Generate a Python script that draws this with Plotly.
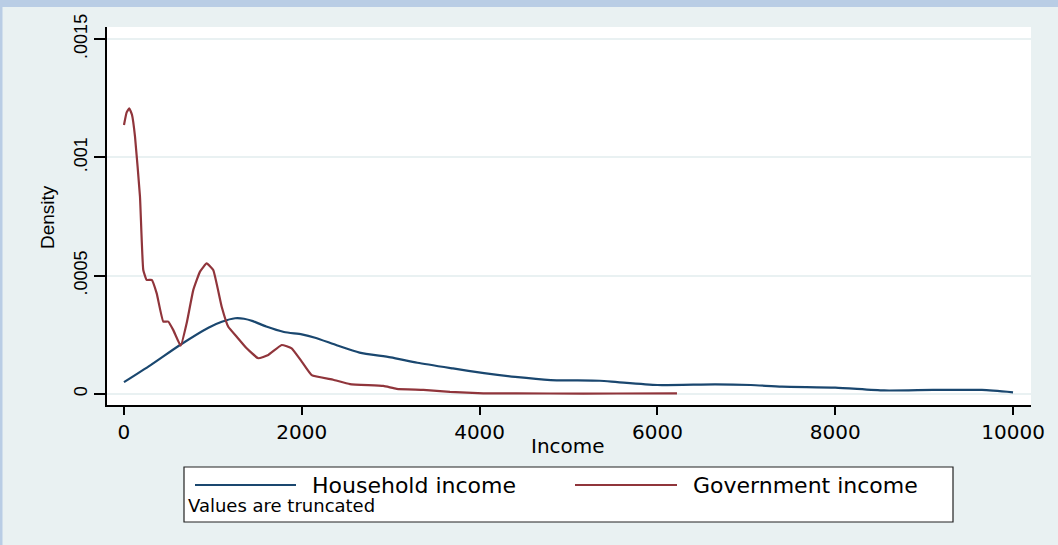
import plotly.graph_objects as go

# Kernel density estimates of monthly income, truncated at 10,000
household_income = [0, 300, 630, 950, 1100, 1250, 1350, 1450, 1600, 1800, 2000, 2150,
                    2400, 2650, 3000, 3300, 3700, 4050, 4400, 4800, 5350, 5550, 6000,
                    6650, 7050, 7400, 8000, 8550, 9100, 9650, 10000]
household_density = [0.000050, 0.000122, 0.000207, 0.000280, 0.000305, 0.000320, 0.000318,
                     0.000308, 0.000285, 0.000262, 0.000252, 0.000238, 0.000205, 0.000175,
                     0.000155, 0.000132, 0.000108, 0.000088, 0.000072, 0.000059, 0.000056,
                     0.000050, 0.000038, 0.000041, 0.000038, 0.000031, 0.000027, 0.000015,
                     0.000017, 0.000017, 0.000007]

government_income = [0, 30, 60, 90, 124, 180, 217, 255, 312, 368, 442, 498, 555, 638, 705,
                     780, 855, 930, 1004, 1099, 1173, 1268, 1380, 1511, 1623, 1774, 1886,
                     1999, 2111, 2354, 2542, 2917, 3067, 3367, 3667, 4042, 4792, 5542, 6220]
government_density = [0.001137, 0.001190, 0.001207, 0.001180, 0.001088, 0.000834, 0.000524,
                      0.000482, 0.000482, 0.000425, 0.000306, 0.000306, 0.000270, 0.000204,
                      0.000299, 0.000440, 0.000517, 0.000552, 0.000524, 0.000369, 0.000284,
                      0.000242, 0.000193, 0.000151, 0.000165, 0.000207, 0.000193, 0.000137,
                      0.000080, 0.000060, 0.000042, 0.000034, 0.000022, 0.000017, 0.000009,
                      0.000003, 0.000002, 0.000002, 0.000003]

series_names = ["Household income", "Government income"]
series_colors = ["#1a476f", "#90353b"]
note_text = "Values are truncated"

x_ticks = [0, 2000, 4000, 6000, 8000, 10000]
y_ticks = [0, 0.0005, 0.001, 0.0015]
y_tick_labels = ["0", ".0005", ".001", ".0015"]

W, H = 1058, 545
L, R, T, B = 107, 1031, 27, 405  # plot area in pixels
PW, PH = R - L, B - T


def px(x):
    return (x - L) / PW


def py(y):
    return (B - y) / PH


fig = go.Figure()
fig.add_trace(go.Scatter(x=household_income, y=household_density, mode="lines",
                         line=dict(color=series_colors[0], width=2.2, shape="spline", smoothing=0.6),
                         name=series_names[0], showlegend=False))
fig.add_trace(go.Scatter(x=government_income, y=government_density, mode="lines",
                         line=dict(color=series_colors[1], width=2.2, shape="spline", smoothing=0.35),
                         name=series_names[1], showlegend=False))

shapes = [
    # outer frame accents
    dict(type="rect", xref="paper", yref="paper", x0=px(0), x1=px(W), y0=py(7), y1=py(0),
         fillcolor="#b9cde5", line=dict(width=0), layer="below"),
    dict(type="rect", xref="paper", yref="paper", x0=px(0), x1=px(2.5), y0=py(H), y1=py(0),
         fillcolor="#b9cde5", line=dict(width=0), layer="below"),
    # legend box
    dict(type="rect", xref="paper", yref="paper", x0=px(184), x1=px(953), y0=py(522), y1=py(467),
         fillcolor="white", line=dict(color="#222222", width=1.2)),
    dict(type="line", xref="paper", yref="paper", x0=px(195), x1=px(296), y0=py(485), y1=py(485),
         line=dict(color=series_colors[0], width=2)),
    dict(type="line", xref="paper", yref="paper", x0=px(575), x1=px(677), y0=py(485), y1=py(485),
         line=dict(color=series_colors[1], width=2)),
]

annotations = [
    dict(text=series_names[0], xref="paper", yref="paper", x=px(310), y=py(486),
         xanchor="left", yanchor="middle", showarrow=False,
         font=dict(family="DejaVu Sans", size=22, color="black")),
    dict(text=series_names[1], xref="paper", yref="paper", x=px(691), y=py(486),
         xanchor="left", yanchor="middle", showarrow=False,
         font=dict(family="DejaVu Sans", size=22, color="black")),
    dict(text=note_text, xref="paper", yref="paper", x=px(186), y=py(505),
         xanchor="left", yanchor="middle", showarrow=False,
         font=dict(family="DejaVu Sans", size=18, color="black")),
    dict(text="Income", xref="paper", yref="paper", x=px(568), y=py(446),
         xanchor="center", yanchor="middle", showarrow=False,
         font=dict(family="DejaVu Sans", size=20, color="black")),
    dict(text="Density", xref="paper", yref="paper", x=px(47), y=py(217),
         xanchor="center", yanchor="middle", showarrow=False, textangle=-90,
         font=dict(family="Liberation Sans", size=19, color="black")),
]

fig.update_layout(
    width=W, height=H,
    margin=dict(l=L, r=W - R, t=T, b=H - B, pad=0),
    paper_bgcolor="#e9f1f2",
    plot_bgcolor="white",
    shapes=shapes,
    annotations=annotations,
    xaxis=dict(range=[-191, 10202], tickvals=x_ticks, ticktext=[str(v) for v in x_ticks],
               showgrid=False, zeroline=False, showline=True, linecolor="black", linewidth=1.5,
               ticks="outside", ticklen=8, tickwidth=1.5, tickcolor="black",
               tickfont=dict(family="DejaVu Sans", size=20, color="black")),
    yaxis=dict(range=[-0.0000465, 0.001551], tickvals=y_ticks, ticktext=y_tick_labels,
               showgrid=True, gridcolor="#e9f1f2", gridwidth=2, zeroline=False,
               showline=True, linecolor="black", linewidth=1.5,
               ticks="outside", ticklen=11, tickwidth=1.5, tickcolor="black", tickangle=-90,
               tickfont=dict(family="Liberation Sans", size=18, color="black")),
)

fig.write_html("out.html")
